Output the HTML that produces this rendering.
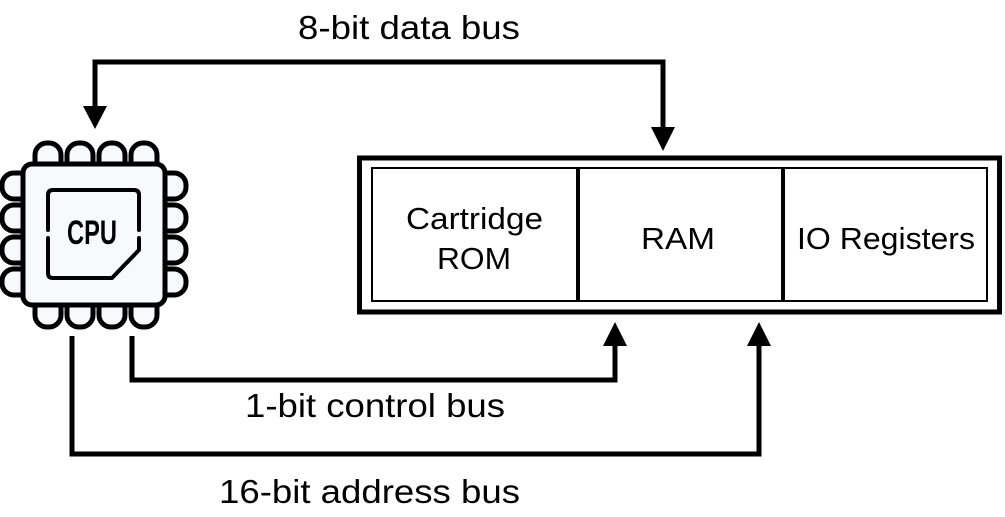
<!DOCTYPE html>
<html><head><meta charset="utf-8"><style>
html,body{margin:0;padding:0;background:#fff;}
svg{display:block;}
text{font-family:"Liberation Sans",Arial,sans-serif;fill:#000;}
</style></head><body>
<svg width="1005" height="517" viewBox="0 0 1005 517" xmlns="http://www.w3.org/2000/svg">
<!-- labels -->
<text x="298" y="39" font-size="33" textLength="222" lengthAdjust="spacingAndGlyphs">8-bit data bus</text>
<text x="245" y="417" font-size="33" textLength="260" lengthAdjust="spacingAndGlyphs">1-bit control bus</text>
<text x="219" y="503" font-size="33" textLength="301" lengthAdjust="spacingAndGlyphs">16-bit address bus</text>

<!-- data bus -->
<polyline points="95,110 95,62 663,62 663,128" fill="none" stroke="#000" stroke-width="5"/>
<polygon points="83,106 107,106 95,129" fill="#000"/>
<polygon points="651,127 675,127 663,151" fill="#000"/>

<!-- control bus -->
<polyline points="132,336 132,380 615,380 615,344" fill="none" stroke="#000" stroke-width="5"/>
<polygon points="603,346 627,346 615,322" fill="#000"/>

<!-- address bus -->
<polyline points="72,336 72,454 759,454 759,344" fill="none" stroke="#000" stroke-width="5"/>
<polygon points="747,346 771,346 759,322" fill="#000"/>

<!-- memory -->
<rect x="359.5" y="158" width="640" height="154" fill="#fff" stroke="#000" stroke-width="5"/>
<rect x="372" y="168" width="205" height="133" fill="#fff" stroke="#000" stroke-width="2"/>
<rect x="579" y="168" width="203" height="133" fill="#fff" stroke="#000" stroke-width="2"/>
<rect x="784" y="168" width="203" height="133" fill="#fff" stroke="#000" stroke-width="2"/>
<text x="406" y="229" font-size="31" textLength="137" lengthAdjust="spacingAndGlyphs">Cartridge</text>
<text x="437" y="269" font-size="31" textLength="74" lengthAdjust="spacingAndGlyphs">ROM</text>
<text x="641" y="249" font-size="31" textLength="74" lengthAdjust="spacingAndGlyphs">RAM</text>
<text x="797" y="249" font-size="31" textLength="178" lengthAdjust="spacingAndGlyphs">IO Registers</text>

<!-- CPU chip -->
<g stroke="#000" stroke-width="5" fill="#f8f9fb">
  <rect x="35" y="143" width="26" height="36" rx="12"/>
  <rect x="67" y="143" width="26" height="36" rx="12"/>
  <rect x="99" y="143" width="26" height="36" rx="12"/>
  <rect x="131" y="143" width="26" height="36" rx="12"/>
  <rect x="35" y="290" width="26" height="37" rx="12"/>
  <rect x="67" y="290" width="26" height="37" rx="12"/>
  <rect x="99" y="290" width="26" height="37" rx="12"/>
  <rect x="131" y="290" width="26" height="37" rx="12"/>
  <rect x="2" y="173" width="36" height="26" rx="12"/>
  <rect x="2" y="205" width="36" height="26" rx="12"/>
  <rect x="2" y="237" width="36" height="26" rx="12"/>
  <rect x="2" y="269" width="36" height="26" rx="12"/>
  <rect x="150" y="173" width="36" height="26" rx="12"/>
  <rect x="150" y="205" width="36" height="26" rx="12"/>
  <rect x="150" y="237" width="36" height="26" rx="12"/>
  <rect x="150" y="269" width="36" height="26" rx="12"/>
  <rect x="23" y="164" width="142" height="141" rx="9"/>
</g>
<g stroke="#000" stroke-width="4" fill="none" stroke-linecap="round" stroke-linejoin="round">
  <path d="M48,230 L48,195 Q48,190 53,190 L134,190 Q139,190 139,195 L139,230"/>
  <path d="M48,238 L48,273 Q48,278 53,278 L112,278 L139,250 L139,238"/>
</g>
<text x="67" y="244" font-size="34" font-weight="bold" textLength="50" lengthAdjust="spacingAndGlyphs">CPU</text>
</svg>
</body></html>
